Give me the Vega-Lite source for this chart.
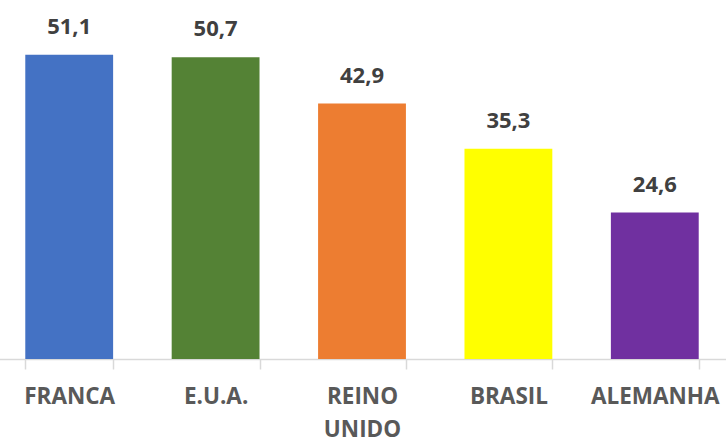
{
  "$schema": "https://vega.github.io/schema/vega-lite/v6.json",
  "autosize": "none",
  "width": 726,
  "height": 359,
  "padding": {"left": 0, "top": 0, "right": 0, "bottom": 80},
  "background": "white",
  "config": {"view": {"stroke": null}},
  "data": {"values": [
    {"pais": "FRANCA", "valor": 51.1, "rotulo": "51,1", "cor": "#4472C4"},
    {"pais": "E.U.A.", "valor": 50.7, "rotulo": "50,7", "cor": "#548235"},
    {"pais": "REINO UNIDO", "valor": 42.9, "rotulo": "42,9", "cor": "#ED7D31"},
    {"pais": "BRASIL", "valor": 35.3, "rotulo": "35,3", "cor": "#FFFF00"},
    {"pais": "ALEMANHA", "valor": 24.6, "rotulo": "24,6", "cor": "#7030A0"}
  ]},
  "encoding": {
    "x": {"field": "pais", "type": "nominal", "sort": null,
      "scale": {"range": [-4, 728], "paddingInner": 0.4, "paddingOuter": 0.2},
      "axis": {"title": null, "labelAngle": 0, "domainColor": "#D9D9D9", "domainWidth": 1.5,
        "tickBand": "extent", "tickColor": "#D9D9D9", "tickSize": 10, "tickWidth": 1.5,
        "labelPadding": 16, "labelBaseline": "top", "labelFont": "Open Sans", "labelFontWeight": "bold",
        "labelFontSize": 22.5, "labelColor": "#595959", "labelLineHeight": 33,
        "labelExpr": "split(datum.label, ' ')"}},
    "y": {"field": "valor", "type": "quantitative", "scale": {"domain": [0, 60.3], "nice": false}, "axis": null}
  },
  "layer": [
    {"mark": {"type": "bar"}, "encoding": {"color": {"field": "cor", "type": "nominal", "scale": null}}},
    {"mark": {"type": "text", "baseline": "alphabetic", "dy": -21, "font": "Open Sans", "fontWeight": "bold", "fontSize": 22, "color": "#404040"},
     "encoding": {"text": {"field": "rotulo"}}}
  ]
}
